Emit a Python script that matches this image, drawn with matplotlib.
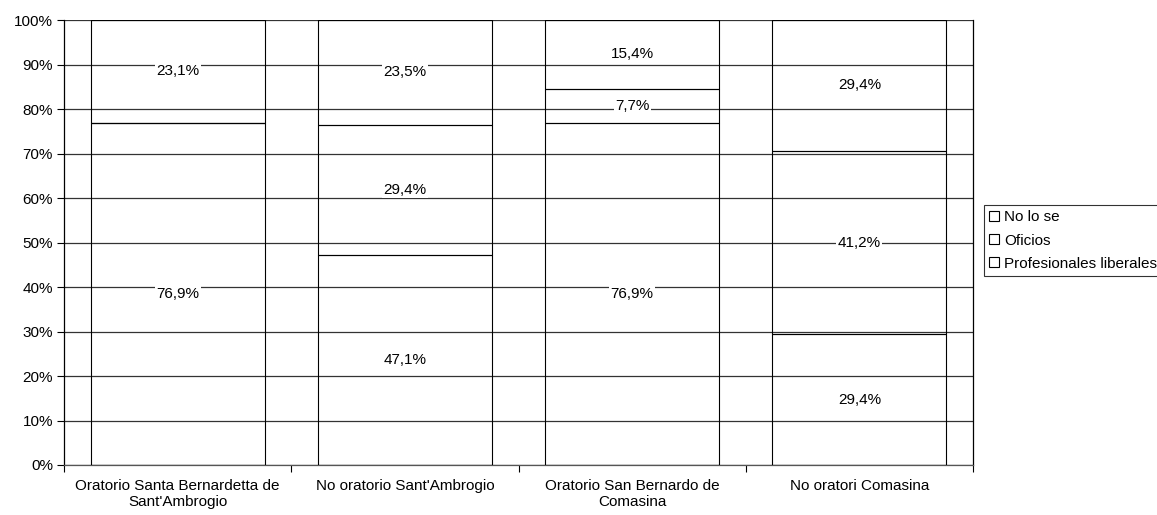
import matplotlib
matplotlib.use("Agg")
import matplotlib.pyplot as plt
from matplotlib.patches import Patch
import numpy as np

plt.rcParams['font.family'] = ['Liberation Sans', 'DejaVu Sans']

categories = ["Oratorio Santa Bernardetta de\nSant'Ambrogio",
              "No oratorio Sant'Ambrogio",
              "Oratorio San Bernardo de\nComasina",
              "No oratori Comasina"]
series_names = ["Profesionales liberales", "Oficios", "No lo se"]
profesionales = [76.9, 47.1, 76.9, 29.4]
oficios = [0.0, 29.4, 7.7, 41.2]
no_lo_se = [23.1, 23.5, 15.4, 29.4]
yticks = [0, 10, 20, 30, 40, 50, 60, 70, 80, 90, 100]

FS = 11

fig = plt.figure(figsize=(11.57, 5.15), dpi=100)
ax = fig.add_axes([64/1157, 1-465/515, (973-64)/1157, (465-20)/515])

x = np.arange(len(categories))
width = 0.766
bottom = np.zeros(len(categories))
for vals in [profesionales, oficios, no_lo_se]:
    vals = np.array(vals)
    ax.bar(x, vals, width, bottom=bottom, facecolor='none', edgecolor='black',
           linewidth=0.8, zorder=3)
    for xi, b, v in zip(x, bottom, vals):
        if v > 0:
            ax.text(xi, b + v/2, f"{v:.1f}%".replace('.', ','), ha='center', va='center',
                    fontsize=FS, zorder=5,
                    bbox=dict(facecolor='white', edgecolor='none', pad=1.0))
    bottom += vals

ax.set_xlim(-0.5, len(categories)-0.5)
ax.set_ylim(0, 100)
ax.set_yticks(yticks)
ax.set_yticklabels([f"{t}%" for t in yticks], fontsize=FS)
ax.yaxis.grid(True, color='#333333', linewidth=0.9, zorder=1)
ax.set_axisbelow(True)

ax.set_xticks(np.arange(len(categories)+1) - 0.5)
ax.set_xticklabels([])
ax.set_xticks(x, minor=True)
ax.set_xticklabels(categories, minor=True, fontsize=FS)
ax.tick_params(axis='x', which='minor', length=0, pad=10)
ax.tick_params(axis='x', which='major', length=5, direction='out')
ax.tick_params(axis='y', length=5, direction='out', pad=3)

for s in ['left', 'right', 'bottom']:
    ax.spines[s].set_color('black')
    ax.spines[s].set_linewidth(0.9)
ax.spines['bottom'].set_color('#555555')
ax.spines['top'].set_visible(False)

handles = [Patch(facecolor='white', edgecolor='black', linewidth=0.8, label=n)
           for n in series_names[::-1]]
leg = fig.legend(handles=handles, loc='upper left',
                 bbox_to_anchor=(984/1157, 1-205/515), fontsize=FS,
                 frameon=True, fancybox=False, edgecolor='black',
                 handlelength=0.6, handleheight=0.6, handletextpad=0.35,
                 borderpad=0.35, labelspacing=0.6, borderaxespad=0)
leg.get_frame().set_linewidth(0.8)

fig.savefig("out.png", dpi=100)
